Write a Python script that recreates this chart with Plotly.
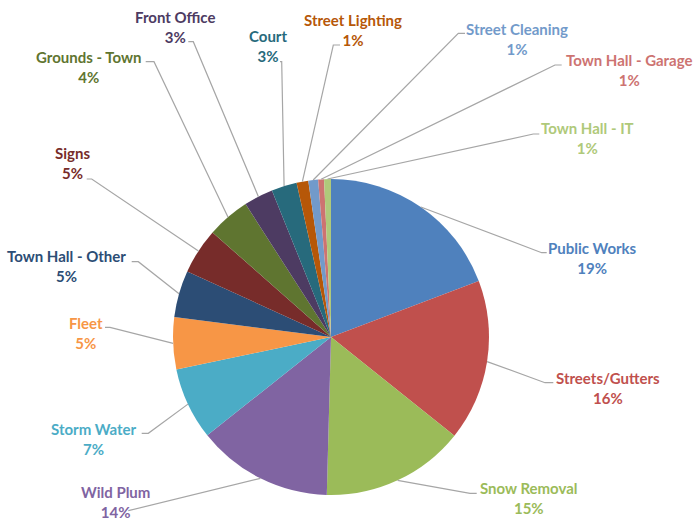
import math
import plotly.graph_objects as go

# ---- data ----
categories = ["Public Works", "Streets/Gutters", "Snow Removal", "Wild Plum", "Storm Water",
              "Fleet", "Town Hall - Other", "Signs", "Grounds - Town", "Front Office",
              "Court", "Street Lighting", "Street Cleaning", "Town Hall - Garage", "Town Hall - IT"]
shares = [19.25, 16.5, 14.7, 13.9, 7.4, 5.3, 4.8, 4.7, 4.4, 3.0, 2.6, 1.2, 1.0, 0.6, 0.7]

# ---- styles / layout ----
colors = ["#4F81BD", "#C0504D", "#9BBB59", "#8064A2", "#4BACC6", "#F79646", "#2C4D75",
          "#772C2A", "#5F7530", "#4D3B62", "#276A7C", "#B65708", "#729ACA", "#CD7371", "#AFC97A"]

W, H = 694, 521
CX, CY, R = 331, 337, 158

# label block centres (pixels)
label_pos = [(592.7, 258.3), (608.3, 388.3), (529.3, 497.8), (115, 502), (94, 438.8),
             (86, 333.3), (66.7, 266), (72.7, 163.3), (88.3, 67.3), (175, 26.7),
             (268.3, 46), (353, 30), (516.7, 38.8), (629.3, 70.3), (587.3, 138.3)]
# leader elbow and end (pixels)
leader_pts = [((541.7, 252.7), (546.7, 252.7)), ((545, 382.7), (553.3, 382.7)),
              ((470, 493.3), (476.7, 493.3)), ((128.3, 510.7), (128.3, 510.7)),
              ((148.3, 433.3), (141.7, 433.3)), ((110, 327.3), (105, 327.3)),
              ((138.3, 261.7), (131.7, 261.7)), ((91.7, 179), (86.7, 179)),
              ((154, 61.7), (145.7, 61.7)), ((193.3, 41.7), (188.3, 41.7)),
              ((281.7, 61.7), (280, 61.7)), ((333.3, 45), (340, 45)),
              ((458.3, 33.3), (465, 33.3)), ((555, 65), (561.7, 65)),
              ((533.3, 134), (539.3, 134))]


def px(x):
    return x / W


def py(y):
    return 1 - y / H


fig = go.Figure(go.Pie(
    labels=categories, values=shares, sort=False, direction="clockwise", rotation=0,
    marker=dict(colors=colors, line=dict(width=0)),
    textinfo="none", showlegend=False, hoverinfo="label+percent",
    domain=dict(x=[px(CX - R), px(CX + R)], y=[py(CY + R), py(CY - R)]),
))

total = sum(shares)
cum = 0.0
shapes = []
annotations = []
for i, (cat, v) in enumerate(zip(categories, shares)):
    mid = (cum + v / 2) / total * 2 * math.pi
    cum += v
    sx = CX + R * math.sin(mid)
    sy = CY - R * math.cos(mid)
    (ex, ey), (tx, ty) = leader_pts[i]
    path = f"M {px(sx)},{py(sy)} L {px(ex)},{py(ey)} L {px(tx)},{py(ty)}"
    shapes.append(dict(type="path", path=path, xref="paper", yref="paper",
                       line=dict(color="#A6A6A6", width=1.2)))
    pct = round(v / total * 100)
    lx, ly = label_pos[i]
    annotations.append(dict(
        x=px(lx), y=py(ly), xref="paper", yref="paper", showarrow=False,
        text=f"<b>{cat}</b><br><b>{pct}%</b>", align="center",
        xanchor="center", yanchor="middle",
        font=dict(family="Lato", size=15, color=colors[i])))

fig.update_layout(width=W, height=H, margin=dict(l=0, r=0, t=0, b=0),
                  paper_bgcolor="white", plot_bgcolor="white",
                  shapes=shapes, annotations=annotations)
fig.write_html("out.html", config={"displayModeBar": False},
               post_script="document.body.style.margin='0';document.body.style.overflow='hidden';")
